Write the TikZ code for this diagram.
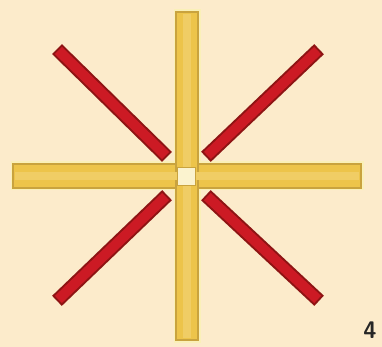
\documentclass[tikz,border=0pt]{standalone}
\usepackage{tikz}
\definecolor{bg}{HTML}{FCEBCB}
\definecolor{barfill}{HTML}{EDC44A}
\definecolor{baredge}{HTML}{C9A33E}
\definecolor{barglow}{HTML}{FAF0B8}
\definecolor{redfill}{HTML}{CC1A24}
\definecolor{rededge}{HTML}{8E1414}
\definecolor{centerfill}{HTML}{FBF3CF}
\tikzset{
  yellowbar/.style={fill=barfill,draw=baredge,line width=1.6pt},
  glowbar/.style={draw=barglow,line width=5pt},
  redout/.style={draw=rededge,line width=14pt,line cap=rect},
  redin/.style={draw=redfill,line width=10pt,line cap=rect},
  numlabel/.style={font=\sffamily\bfseries\fontsize{24}{24}\selectfont,text=black!85,inner sep=0pt}
}
\begin{document}
\begin{tikzpicture}[x=1pt,y=-1pt]
\fill[bg] (0,0) rectangle (382,347);
\useasboundingbox (0,0) rectangle (382,347);
% glow behind yellow bars
\draw[glowbar] (176,12) rectangle (198,340);
\draw[glowbar] (13,164) rectangle (361,188);
% yellow bars
\draw[yellowbar] (13,164) rectangle (361,188);
\draw[yellowbar] (176,12) rectangle (198,340);
\fill[barfill!85!white] (183,14) rectangle (191,338);
\fill[barfill!85!white] (15,172) rectangle (359,180);
% red sticks
\coordinate (tlA) at (62,54);  \coordinate (tlB) at (162,152);
\coordinate (trA) at (314,54); \coordinate (trB) at (211,152);
\coordinate (blA) at (62,296); \coordinate (blB) at (162,200);
\coordinate (brA) at (314,296);\coordinate (brB) at (211,200);
\foreach \a/\b in {tlA/tlB,trA/trB,blA/blB,brA/brB}{
  \draw[redout] (\a) -- (\b);
  \draw[redin] (\a) -- (\b);
}
% center square
\node[draw=baredge,fill=centerfill,line width=1pt,minimum size=18pt,inner sep=0pt] (center) at (186,177) {};
% label
\node[numlabel] (num) at (370,330) {4};
\end{tikzpicture}
\end{document}
